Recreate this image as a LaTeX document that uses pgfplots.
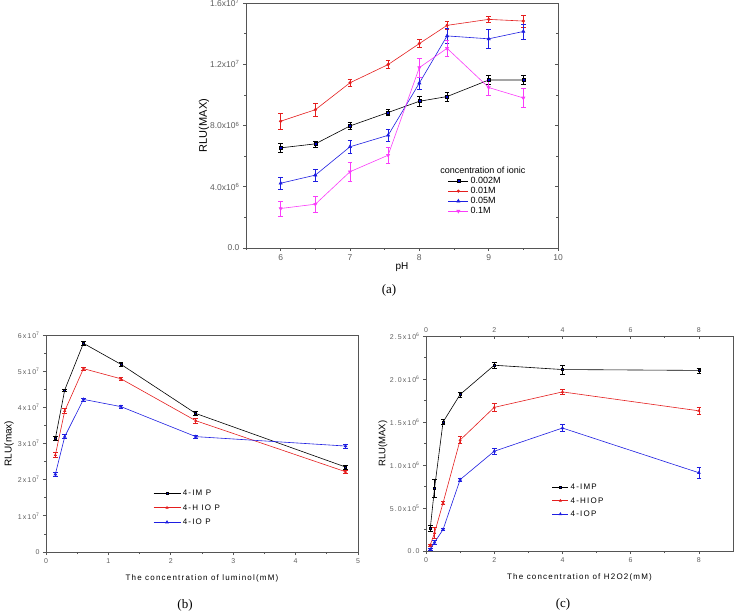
\documentclass[border=0pt]{standalone}
\usepackage{graphicx}
\usepackage{pgfplots}
\pgfplotsset{compat=1.18}
\usepackage{fontspec}
\setmainfont{Liberation Sans}
\newfontfamily\seriff{Liberation Serif}
\newfontfamily\spaced[LetterSpace=15]{Liberation Sans}
\definecolor{cred}{RGB}{228,30,30}
\definecolor{cblue}{RGB}{30,30,225}
\definecolor{cmag}{RGB}{250,60,250}
\definecolor{axgray}{RGB}{85,85,85}
\definecolor{tgray}{RGB}{95,95,95}
\pgfplotsset{
  base/.style={scale only axis, clip=false,
    axis line style={axgray, line width=0.9pt},
    tick style={axgray, line width=0.7pt},
    tick align=outside, major tick length=3pt, minor tick length=2pt,
    /pgf/number format/assume math mode=true,
    every axis plot/.append style={line width=0.6pt},
    legend style={draw=none, fill=none, inner sep=0pt, nodes={inner sep=0pt, text height=6pt, text depth=1pt}},
    legend cell align=left},
  eb/.style={error bars/.cd, y dir=both, y explicit,
    error bar style={line width=0.6pt, solid},
    error mark options={rotate=90, mark size=2.3pt, line width=0.6pt}},
  limg/.style={legend image code/.code={\draw[mark repeat=2,mark phase=2,##1] plot coordinates {(0pt,0pt) (#1/2,0pt) (#1,0pt)};}},
}
\begin{document}
\begin{tikzpicture}[x=1pt,y=1pt]
\useasboundingbox (0,0) rectangle (735,610);
% ---------------- panel (a)
\begin{axis}[base, at={(246pt,362pt)}, anchor=south west, width=312pt, height=245pt,
  xmin=5.5, xmax=10, ymin=0, ymax=16,
  xtick={6,7,8,9,10}, xticklabels={6,7,8,9,10}, minor xtick={5.5,6.5,7.5,8.5,9.5},
  ytick={0,4,8,12,16}, minor ytick={2,6,10,14},
  yticklabels={0.0, 4.0x10\textsuperscript{6}, 8.0x10\textsuperscript{6}, 1.2x10\textsuperscript{7}, 1.6x10\textsuperscript{7}},
  ytick pos=left, xtick pos=bottom,
  ticklabel style={font=\fontsize{8.5}{9}\selectfont, text=tgray},
  xlabel={pH}, xlabel style={font=\fontsize{10}{11}\selectfont, at={(axis description cs:0.5,-0.078)}, anchor=center},
  limg=20pt,
  legend style={at={(rel axis cs:0.647,0.288)}, anchor=north west, font=\fontsize{9}{10}\selectfont, row sep=3pt, column sep=2pt},
]
\addplot+[black, mark=square*, mark size=1.5pt, eb] coordinates {
 (6,6.54) +- (0,0.3) (6.5,6.8) +- (0,0.2) (7,7.97) +- (0,0.25) (7.55,8.85) +- (0,0.2)
 (8,9.58) +- (0,0.3) (8.4,9.89) +- (0,0.3) (9,10.97) +- (0,0.3) (9.5,10.97) +- (0,0.3)};
\addplot+[cred, mark=*, mark size=1.3pt, mark options={fill=cred}, eb] coordinates {
 (6,8.28) +- (0,0.5) (6.5,9.03) +- (0,0.4) (7,10.79) +- (0,0.2) (7.55,11.98) +- (0,0.25)
 (8,13.35) +- (0,0.25) (8.4,14.54) +- (0,0.25) (9,14.93) +- (0,0.2) (9.5,14.82) +- (0,0.4)};
\addplot+[cblue, mark=triangle*, mark size=1.8pt, mark options={fill=cblue}, eb] coordinates {
 (6,4.23) +- (0,0.4) (6.5,4.76) +- (0,0.4) (7,6.61) +- (0,0.4) (7.55,7.36) +- (0,0.4)
 (8,10.77) +- (0,0.4) (8.4,13.85) +- (0,0.5) (9,13.66) +- (0,0.6) (9.5,14.14) +- (0,0.5)};
\addplot+[cmag, mark=triangle*, mark size=1.8pt, mark options={fill=cmag, rotate=180}, eb] coordinates {
 (6,2.58) +- (0,0.5) (6.5,2.86) +- (0,0.5) (7,4.98) +- (0,0.6) (7.55,6.06) +- (0,0.5)
 (8,11.78) +- (0,0.6) (8.4,13.04) +- (0,0.5) (9,10.48) +- (0,0.5) (9.5,9.8) +- (0,0.6)};
\legend{0.002M,0.01M,0.05M,0.1M}
\node[anchor=west, font=\fontsize{9}{10}\selectfont, inner sep=0pt] at (rel axis cs:0.622,0.318) {concentration of ionic};
\end{axis}
\begin{axis}[base, at={(246pt,362pt)}, anchor=south west, width=312pt, height=245pt,
  xmin=5.5, xmax=10, ymin=0, ymax=16, axis x line=none, axis y line*=right,
  ytick={0,4,8,12,16}, minor ytick={2,6,10,14}, yticklabels={}, tick align=inside]
\addplot[draw=none] coordinates {(6,1)};
\end{axis}
\begin{scope}[transform canvas={shift={(204,484.5)}, rotate=90}]
\node[font=\fontsize{11}{12}\selectfont, inner sep=0pt] at (0,0) {RLU(MAX)};
\end{scope}
\node[font=\seriff\fontsize{13}{14}\selectfont] at (389,320) {(a)};
% ---------------- panel (b)
\begin{axis}[base, at={(46pt,58pt)}, anchor=south west, width=312pt, height=217pt,
  xmin=0, xmax=5, ymin=0, ymax=6,
  xtick={0,1,2,3,4,5}, xticklabels={0,1,2,3,4,5}, minor xtick={0.5,1.5,2.5,3.5,4.5},
  ytick={0,1,2,3,4,5,6}, minor ytick={0.5,1.5,2.5,3.5,4.5,5.5},
  yticklabels={0, 1x10\textsuperscript{7}, 2x10\textsuperscript{7}, 3x10\textsuperscript{7}, 4x10\textsuperscript{7}, 5x10\textsuperscript{7}, 6x10\textsuperscript{7}},
  ytick pos=left, xtick pos=bottom,
  ticklabel style={font=\spaced\fontsize{7}{8}\selectfont, text=tgray},
  xlabel={The concentration of luminol(mM)}, xlabel style={font=\spaced\fontsize{8}{9}\selectfont, at={(axis description cs:0.5,-0.12)}, anchor=center},
  limg=27pt,
  legend style={at={(rel axis cs:0.343,0.288)}, anchor=north west, font=\spaced\fontsize{8}{9}\selectfont, row sep=7.5pt, column sep=2pt},
]
\addplot+[black, mark=square*, mark size=1pt, eb] coordinates {
 (0.15,3.14) +- (0,0.05) (0.3,4.48) +- (0,0.03) (0.6,5.77) +- (0,0.06) (1.2,5.19) +- (0,0.05) (2.4,3.83) +- (0,0.05) (4.8,2.35) +- (0,0.05)};
\addplot+[cred, mark=triangle*, mark size=1.2pt, mark options={fill=cred}, eb] coordinates {
 (0.15,2.68) +- (0,0.07) (0.3,3.90) +- (0,0.06) (0.6,5.07) +- (0,0.04) (1.2,4.79) +- (0,0.05) (2.4,3.63) +- (0,0.06) (4.8,2.22) +- (0,0.05)};
\addplot+[cblue, mark=triangle*, mark size=1.5pt, mark options={fill=cblue}, eb] coordinates {
 (0.15,2.15) +- (0,0.05) (0.3,3.19) +- (0,0.06) (0.6,4.22) +- (0,0.04) (1.2,4.02) +- (0,0.05) (2.4,3.19) +- (0,0.05) (4.8,2.93) +- (0,0.06)};
\legend{4-IM P,4-H IO P,4-IO P}
\end{axis}
\node[font=\fontsize{10}{11}\selectfont, inner sep=0pt] at (9,166.5) {\rotatebox{90}{RLU(max)}};
\node[font=\seriff\fontsize{13}{14}\selectfont] at (185,5) {(b)};
% ---------------- panel (c)
\begin{axis}[base, at={(426pt,59pt)}, anchor=south west, width=307pt, height=215pt,
  xmin=0, xmax=9, ymin=0, ymax=2.5,
  xtick={0,2,4,6,8}, xticklabels={0,2,4,6,8}, minor xtick={1,3,5,7},
  ytick={0,0.5,1,1.5,2,2.5}, minor ytick={0.25,0.75,1.25,1.75,2.25},
  yticklabels={0.0, 5.0x10\textsuperscript{5}, 1.0x10\textsuperscript{6}, 1.5x10\textsuperscript{6}, 2.0x10\textsuperscript{6}, 2.5x10\textsuperscript{6}},
  ytick pos=left, xtick pos=bottom,
  ticklabel style={font=\spaced\fontsize{7}{8}\selectfont, text=tgray},
  xlabel={The concentration of H2O2(mM)}, xlabel style={font=\spaced\fontsize{8}{9}\selectfont, at={(axis description cs:0.5,-0.121)}, anchor=center},
  limg=16pt,
  legend style={at={(rel axis cs:0.41,0.314)}, anchor=north west, font=\spaced\fontsize{8}{9}\selectfont, row sep=6.5pt, column sep=2pt},
]
\addplot+[black, mark=square*, mark size=1pt, eb] coordinates {
 (0.125,0.264) +- (0,0.03) (0.25,0.73) +- (0,0.1) (0.5,1.50) +- (0,0.03) (1,1.82) +- (0,0.03) (2,2.16) +- (0,0.04) (4,2.11) +- (0,0.05) (8,2.10) +- (0,0.03)};
\addplot+[cred, mark=triangle*, mark size=1.2pt, mark options={fill=cred}, eb] coordinates {
 (0.125,0.07) +- (0,0.01) (0.25,0.21) +- (0,0.06) (0.5,0.56) +- (0,0.02) (1,1.29) +- (0,0.04) (2,1.67) +- (0,0.05) (4,1.85) +- (0,0.03) (8,1.63) +- (0,0.04)};
\addplot+[cblue, mark=triangle*, mark size=1.5pt, mark options={fill=cblue}, eb] coordinates {
 (0.125,0.02) +- (0,0.01) (0.25,0.10) +- (0,0.02) (0.5,0.25) +- (0,0.01) (1,0.83) +- (0,0.02) (2,1.16) +- (0,0.03) (4,1.43) +- (0,0.04) (8,0.91) +- (0,0.06)};
\legend{4-IMP,4-HIOP,4-IOP}
\end{axis}
\begin{axis}[base, at={(426pt,59pt)}, anchor=south west, width=307pt, height=215pt,
  xmin=0, xmax=9, ymin=0, ymax=2.5, axis y line=none, axis x line*=top,
  xtick={0,2,4,6,8}, xticklabels={0,2,4,6,8}, minor xtick={1,3,5,7}, tick align=inside,
  ticklabel style={font=\spaced\fontsize{7}{8}\selectfont, text=tgray}]
\addplot[draw=none] coordinates {(1,1)};
\end{axis}
\node[rotate=90, font=\fontsize{9.5}{11}\selectfont] at (383,166.5) {RLU(MAX)};
\node[font=\seriff\fontsize{13}{14}\selectfont] at (563,6) {(c)};
\end{tikzpicture}
\end{document}
